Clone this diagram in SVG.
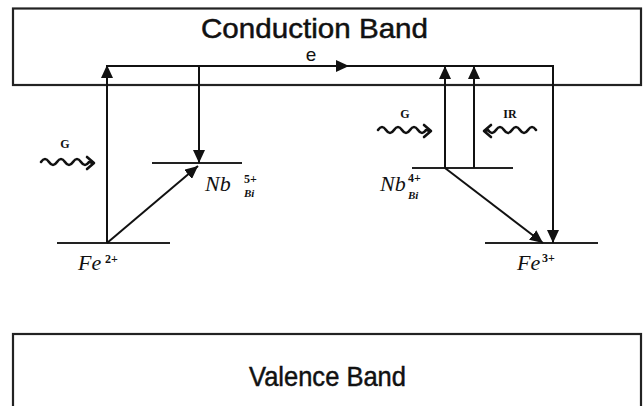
<svg xmlns="http://www.w3.org/2000/svg" width="643" height="406" viewBox="0 0 643 406">
<defs>
<marker id="ah" markerUnits="userSpaceOnUse" markerWidth="13" markerHeight="12" refX="13" refY="6" orient="auto" viewBox="0 0 13 12">
<path d="M0,0 L13,6 L0,12 z" fill="#111"/>
</marker>
</defs>
<style>
.band{fill:#fff;stroke:#222;stroke-width:2.2}
.btxt{font-family:"Liberation Sans",Arial,sans-serif;font-size:28px;fill:#111;stroke:#111;stroke-width:0.5}
.lvl{stroke:#222;stroke-width:2}
.con{stroke:#111;stroke-width:2;fill:none}
.wave{stroke:#111;stroke-width:2.6;fill:none;stroke-linecap:round;stroke-linejoin:round}
.ion{font-family:"Liberation Serif","Times New Roman",serif;font-style:italic;font-size:22px;fill:#111}
.sup{font-family:"Liberation Serif","Times New Roman",serif;font-weight:bold;font-size:12px;fill:#111}
.sub{font-family:"Liberation Serif","Times New Roman",serif;font-style:italic;font-weight:bold;font-size:11px;fill:#111}
.lab{font-family:"Liberation Serif","Times New Roman",serif;font-weight:bold;font-size:12px;fill:#111}
</style>
<rect width="643" height="406" fill="#fff"/>
<g id="conduction-band">
<rect class="band" x="13" y="8.5" width="628" height="76.5"/>
<text class="btxt" x="201" y="38" textLength="227" lengthAdjust="spacingAndGlyphs">Conduction Band</text>
</g>
<g id="valence-band">
<rect class="band" x="13" y="334" width="628" height="100"/>
<text class="btxt" x="249" y="386" textLength="157" lengthAdjust="spacingAndGlyphs">Valence Band</text>
</g>
<g id="fe2">
<line class="lvl" x1="57" y1="243" x2="170" y2="243"/>
<text class="ion" x="78" y="270">Fe</text>
<text class="sup" x="105" y="263">2+</text>
</g>
<g id="nb5">
<line class="lvl" x1="152" y1="163" x2="242" y2="163"/>
<text class="ion" x="205" y="191">Nb</text>
<text class="sup" x="244" y="183">5+</text>
<text class="sub" x="244" y="197">Bi</text>
</g>
<g id="nb4">
<line class="lvl" x1="412" y1="168" x2="513" y2="168"/>
<text class="ion" x="380" y="191">Nb</text>
<text class="sup" x="408" y="182">4+</text>
<text class="sub" x="408" y="199">Bi</text>
</g>
<g id="fe3">
<line class="lvl" x1="485" y1="243" x2="598" y2="243"/>
<text class="ion" x="517" y="270">Fe</text>
<text class="sup" x="542" y="262">3+</text>
</g>
<g id="light-g-left">
<text class="lab" x="65" y="148" text-anchor="middle">G</text>
<path class="wave" d="M41,162 q4,-6 8,0 t8,0 t8,0 t8,0 t8,0 t8,0 L93,163"/>
<path class="wave" d="M87,157 L94,163 L87,169"/>
</g>
<g id="light-g-right">
<text class="lab" x="405" y="118" text-anchor="middle">G</text>
<path class="wave" d="M378,130 q4,-6 8,0 t8,0 t8,0 t8,0 t8,0 t8,0 L430,131"/>
<path class="wave" d="M424,125 L431,131 L424,137"/>
</g>
<g id="light-ir">
<text class="lab" x="510" y="118" text-anchor="middle">IR</text>
<path class="wave" d="M536,130 q-4,-6 -8,0 t-8,0 t-8,0 t-8,0 t-8,0 t-8,0 L485,131"/>
<path class="wave" d="M491,125 L484,131 L491,137"/>
</g>
<g id="connectors">
<line class="con" x1="107" y1="243" x2="107" y2="65" marker-end="url(#ah)"/>
<polyline class="con" points="107,66 553,66 553,85"/>
<path d="M336,60 L349,66 L336,72 z" fill="#111"/>
<text x="311" y="61" text-anchor="middle" font-family="Liberation Sans, Arial, sans-serif" font-size="19" fill="#111">e</text>
<line class="con" x1="199" y1="66" x2="199" y2="163" marker-end="url(#ah)"/>
<line class="con" x1="107" y1="243" x2="198" y2="166" marker-end="url(#ah)"/>
<line class="con" x1="445" y1="168" x2="445" y2="66" marker-end="url(#ah)"/>
<line class="con" x1="474" y1="168" x2="474" y2="66" marker-end="url(#ah)"/>
<line class="con" x1="553" y1="66" x2="553" y2="243" marker-end="url(#ah)"/>
<line class="con" x1="445" y1="168" x2="543" y2="243" marker-end="url(#ah)"/>
</g>
</svg>
